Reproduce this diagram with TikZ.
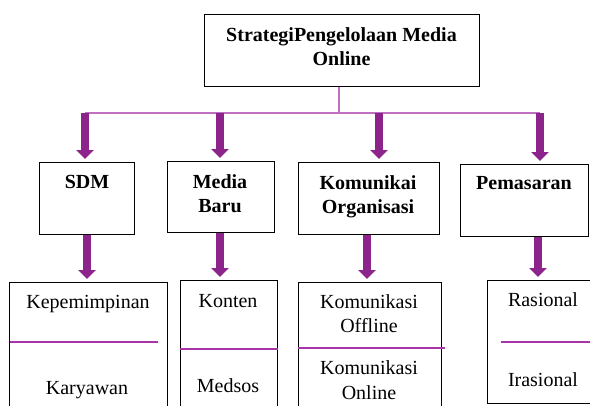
\documentclass[tikz,border=0pt]{standalone}
\usepackage{fontspec}
\setmainfont{Liberation Serif}
\usetikzlibrary{arrows.meta,calc}
\definecolor{arrowpurple}{RGB}{141,36,140}
\definecolor{linkpurple}{RGB}{192,112,192}
\definecolor{splitpurple}{RGB}{168,52,168}
\tikzset{
 box/.style={draw=black, line width=1.3pt, rectangle, inner sep=0pt, anchor=north west},
 head/.style={font=\fontsize{20}{24}\selectfont\bfseries, anchor=base, inner sep=0pt},
 item/.style={font=\fontsize{20}{24}\selectfont, anchor=base, inner sep=0pt},
 bigarrow/.style={draw=arrowpurple, line width=8pt, -{Triangle[width=17pt,length=9pt]}, shorten >=3pt},
 link/.style={draw=linkpurple, line width=2pt},
 split/.style={draw=splitpurple, line width=1.3pt},
}
\begin{document}
\begin{tikzpicture}[x=1pt,y=-1pt]
\useasboundingbox (0,0) rectangle (590,405);
\clip (0,0) rectangle (590,405);
\fill[white] (0,0) rectangle (590,405);
% boxes
\node[box, minimum width=275pt, minimum height=72pt] (top) at (204,14) {};
\node[box, minimum width=95pt, minimum height=72pt] (sdm) at (39,162) {};
\node[box, minimum width=107pt, minimum height=71pt] (media) at (167,161) {};
\node[box, minimum width=141pt, minimum height=72pt] (kom) at (298,162) {};
\node[box, minimum width=128pt, minimum height=72pt] (pem) at (460,164) {};
\node[box, minimum width=158pt, minimum height=140pt] (b1) at (9,282) {};
\node[box, minimum width=97pt, minimum height=142pt] (b2) at (180,280) {};
\node[box, minimum width=143pt, minimum height=140pt] (b3) at (298,282) {};
\node[box, minimum width=113pt, minimum height=123pt] (b4) at (487,280) {};
% texts
\node[head] (t1) at (341.5,41.5) {StrategiPengelolaan Media};
\node[head] (t2) at (341.5,65) {Online};
\node[head] (tsdm) at (87,188) {SDM};
\node[head] (tm1) at (220,188) {Media};
\node[head] (tm2) at (220,212) {Baru};
\node[head] (tk1) at (368,189) {Komunikai};
\node[head] (tk2) at (368,213) {Organisasi};
\node[head] (tp) at (524,189) {Pemasaran};
\node[item] (i11) at (88,308) {Kepemimpinan};
\node[item] (i12) at (87,394) {Karyawan};
\node[item] (i21) at (228,307) {Konten};
\node[item] (i22) at (228,392) {Medsos};
\node[item] (i31) at (369,308) {Komunikasi};
\node[item] (i32) at (369,332) {Offline};
\node[item] (i33) at (369,374) {Komunikasi};
\node[item] (i34) at (369,399) {Online};
\node[item] (i41) at (543,306) {Rasional};
\node[item] (i42) at (543,386) {Irasional};
% dividers
\draw[split] ($(b1.north west)+(1,60)$) -- ($(b1.north west)+(149,60)$);
\draw[split] ($(b2.north west)+(0,69)$) -- ($(b2.north east)+(0,69)$);
\draw[split] ($(b3.north west)+(0,66)$) -- ($(b3.north east)+(3,66)$);
\draw[split] ($(b4.north west)+(14,62)$) -- ($(b4.north east)+(0,62)$);
% connectors
\coordinate (j) at (339,113);
\coordinate (a1) at (85,113);
\coordinate (a2) at (220,113);
\coordinate (a3) at (379,113);
\coordinate (a4) at (540,113);
\draw[link] (top.south -| j) -- (j);
\draw[link] (a1) -- (a4);
\draw[bigarrow] (a1) -- (a1 |- sdm.north);
\draw[bigarrow] (a2) -- (a2 |- media.north);
\draw[bigarrow] (a3) -- (a3 |- kom.north);
\draw[bigarrow] (a4) -- (a4 |- pem.north);
\coordinate (d1) at (87,0);
\coordinate (d2) at (220,0);
\coordinate (d3) at (367,0);
\coordinate (d4) at (538,0);
\draw[bigarrow] (d1 |- sdm.south) -- (d1 |- b1.north);
\draw[bigarrow] (d2 |- media.south) -- (d2 |- b2.north);
\draw[bigarrow] (d3 |- kom.south) -- (d3 |- b3.north);
\draw[bigarrow] (d4 |- pem.south) -- (d4 |- b4.north);
\end{tikzpicture}
\end{document}
